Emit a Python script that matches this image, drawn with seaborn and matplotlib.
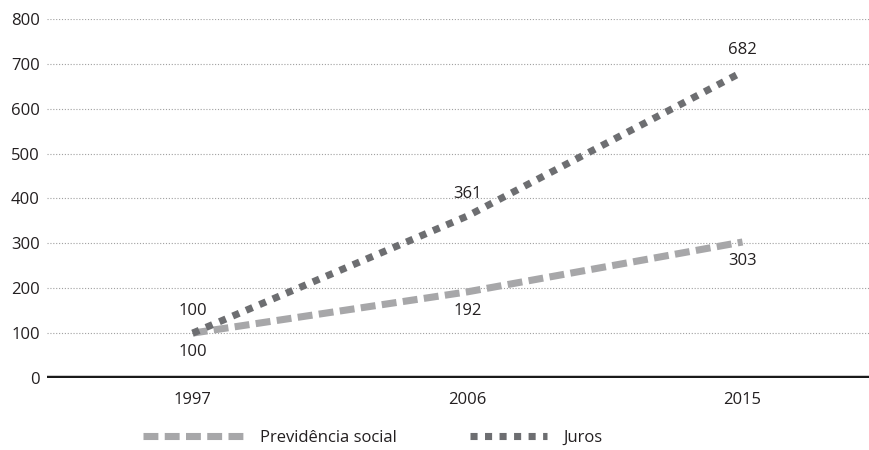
import pandas as pd
import matplotlib.pyplot as plt
import seaborn as sns
from matplotlib.lines import Line2D

anos = ["1997", "2006", "2015"]
previdencia = [100, 192, 303]
juros = [100, 361, 682]
series = ["Previdência social", "Juros"]

df = pd.DataFrame({
    "ano": anos * 2,
    "valor": previdencia + juros,
    "serie": [series[0]] * 3 + [series[1]] * 3,
})

sns.set_style("white")
plt.rcParams["font.family"] = ["Open Sans", "DejaVu Sans"]

fig = plt.figure(figsize=(8.69, 4.5), dpi=100)
ax = fig.add_axes([0.054, 0.16, 0.946, 0.798])

cores = {series[0]: "#a7a7a9", series[1]: "#6d6e71"}
tracos = {series[0]: (2.1, 0.9), series[1]: (1, 1.05)}
lw = 5.1
fs = 12
sns.lineplot(data=df, x="ano", y="valor", hue="serie", style="serie",
             palette=cores, dashes=tracos, linewidth=lw, ax=ax,
             legend=False, sort=False)
for ln in ax.lines:
    ln.set_dash_capstyle("butt")

ax.set_ylim(0, 800)
ax.set_xlim(-0.53, 2.46)
ax.set_yticks(range(0, 801, 100))
ax.grid(axis="y", linestyle=(0, (1, 1.6)), color="#a0a0a0", linewidth=0.8)
ax.grid(axis="x", visible=False)
ax.axhline(0, color="#1a1a1a", linewidth=3.2, zorder=5)
for s in ax.spines.values():
    s.set_visible(False)
ax.set_xlabel("")
ax.set_ylabel("")
ax.tick_params(axis="both", length=0, labelsize=fs, colors="#231f20", pad=5)
ax.tick_params(axis="x", pad=10)

for i, v in enumerate(juros):
    ax.annotate(str(v), (i, v), xytext=(0, 10), textcoords="offset points",
                ha="center", va="bottom", fontsize=fs, color="#231f20")
for i, v in enumerate(previdencia):
    ax.annotate(str(v), (i, v), xytext=(0, -8), textcoords="offset points",
                ha="center", va="top", fontsize=fs, color="#231f20")

# two separate legend entries, each with its own handle length
for s, x0, hl in [(series[0], 143 / 869, 6.0), (series[1], 470 / 869, 4.6)]:
    h = Line2D([], [], color=cores[s], linewidth=lw, dashes=tracos[s],
               dash_capstyle="butt")
    fig.legend([h], [s], loc="center left", bbox_to_anchor=(x0, 0.027),
               frameon=False, fontsize=fs, handlelength=hl,
               handletextpad=1.0, borderpad=0, borderaxespad=0,
               labelcolor="#231f20")

fig.savefig("out.png", dpi=100)
